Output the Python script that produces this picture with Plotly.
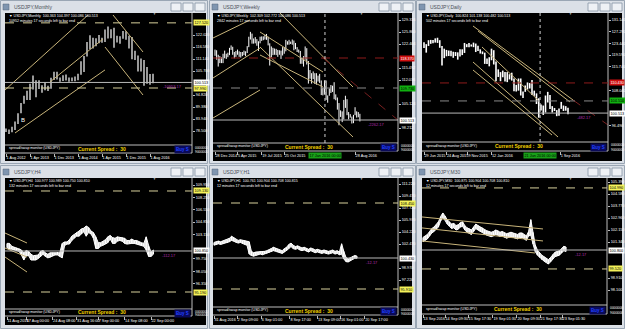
import plotly.graph_objects as go

W_PX, H_PX = 625, 329

# ---------------- data ----------------
# Monthly (Aug 2012 .. Sep 2016)
M_HIGH = [79.6, 79.2, 80.4, 82.8, 86.6, 91.2, 94.5, 96.7, 99.9, 103.7, 101.5, 101.5, 99.2, 100.6, 99.0, 102.6, 105.4,
          105.4, 102.7, 103.8, 104.1, 102.8, 102.8, 103.2, 104.5, 110.1, 112.5, 118.9, 121.9,
          120.8, 120.5, 122.0, 120.8, 124.5, 125.9, 124.6, 125.3, 121.7, 121.5, 123.8, 123.7,
          121.7, 121.1, 114.9, 112.7, 111.4, 110.7, 107.5, 104.3, 104.4]
M_LOW = [78.0, 77.1, 77.9, 79.0, 81.7, 86.5, 90.9, 92.6, 92.6, 97.3, 93.8, 97.5, 95.8, 97.0, 96.6, 97.6, 101.6,
         101.8, 100.8, 101.2, 101.4, 100.8, 101.1, 101.1, 101.5, 104.0, 105.2, 112.3, 115.6,
         115.9, 116.9, 118.3, 118.5, 118.9, 120.4, 120.5, 116.2, 118.6, 118.1, 120.3, 119.9,
         115.9, 111.0, 110.7, 105.5, 105.5, 99.0, 99.9, 99.5, 100.1]
M_XTICK_IDX = [0, 8, 16, 24, 32, 40, 48]
M_XTICK_TXT = ["1 Aug 2012", "1 Apr 2013", "1 Dec 2013", "1 Aug 2014", "1 Apr 2015", "1 Dec 2015", "1 Aug 2016"]
M_YTICKS = [73.060, 78.500, 83.940, 89.380, 94.820, 100.260, 105.700, 111.140, 116.580, 122.020, 127.460]
M_LEVELS = [127.520, 97.990]
M_LAST = 100.513
M_TRENDS = [(-0.33, 97.09, 27.33, 131.09), (14.67, 100.71, 32.33, 120.21), (3.0, 77.6, 33.0, 106.2),
            (35.67, 131.09, 45.67, 114.31), (33.0, 116.58, 45.67, 94.82)]

# Weekly (28 Dec 2014 .. 18 Sep 2016)
W_HIGH = [120.8, 120.6, 119.3, 118.9, 118.6, 119.6, 120.5, 119.6, 119.9, 121.3, 122.0, 121.6, 120.1, 120.4, 120.8,
          120.3, 120.1, 120.1, 120.5, 120.3, 121.8, 124.5, 125.9, 125.4, 124.0, 124.4, 123.8, 123.2, 124.5,
          124.6, 124.6, 125.1, 125.3, 124.5, 122.6, 121.7, 121.3, 121.1, 121.0, 120.7, 120.6, 120.5, 121.5,
          121.5, 123.6, 123.2, 123.6, 123.1, 123.7, 123.4, 122.7, 121.5, 120.8, 120.4, 118.5, 118.9, 121.7,
          121.2, 117.5, 114.9, 114.0, 114.5, 114.0, 114.0, 113.3, 113.8, 111.9, 109.8, 111.9, 111.9, 107.6,
          109.6, 110.6, 110.4, 111.4, 107.9, 107.0, 105.4, 103.3, 103.0, 106.3, 107.5, 106.5, 102.8, 102.2,
          101.5, 102.0, 104.2, 103.0, 102.8, 102.3]
W_LOW = [119.0, 117.9, 115.9, 116.9, 116.9, 116.9, 118.3, 118.1, 118.6, 119.2, 120.7, 119.3, 118.3, 118.7, 119.3,
         118.7, 118.5, 118.9, 119.2, 118.9, 119.8, 121.5, 123.7, 122.5, 122.5, 122.6, 121.9, 120.4, 122.6,
         123.3, 123.5, 123.7, 123.6, 122.0, 116.2, 118.6, 119.2, 119.3, 119.2, 118.7, 119.3, 118.1, 119.1,
         119.6, 120.3, 122.2, 122.2, 122.4, 122.2, 120.6, 120.9, 120.1, 119.9, 116.7, 116.7, 115.9, 117.9,
         116.5, 111.0, 112.4, 111.0, 112.3, 110.9, 110.7, 111.6, 111.2, 107.7, 107.6, 107.9, 106.3, 105.5,
         107.5, 108.3, 108.6, 106.5, 106.2, 103.5, 99.0, 101.4, 99.9, 100.7, 104.0, 101.9, 100.7, 101.2,
         99.5, 99.6, 101.9, 101.2, 101.3, 100.1]
W_XTICK_IDX = [0, 14, 29, 43, 58, 72, 87]
W_XTICK_TXT = ["28 Dec 2014", "5 Apr 2015", "19 Jul 2015", "25 Oct 2015", "7 Feb 2016", "15 May 2016", "28 Aug 2016"]
W_YTICKS = [94.756, 98.212, 101.668, 105.124, 108.580, 112.036, 115.492, 118.948, 122.404, 125.860, 129.316]
W_RED = 118.37
W_GREEN = 109.73
W_LAST = 100.513
W_CROSS = 68.3
W_TRENDS = [(-1.24, 124.13, 21.74, 129.32), (-1.24, 112.61, 27.95, 121.25), (-1.24, 101.09, 27.95, 109.16),
            (27.95, 125.86, 67.08, 114.34), (27.95, 121.54, 85.71, 95.62), (38.51, 132.2, 85.71, 110.02),
            (27.95, 119.24, 67.08, 110.02)]
W_RED_TREND = (67.08, 118.37, 113.66, 100.5)

# Daily (week-sampled, 29 Jun 2015 .. 22 Sep 2016)
D_HIGH = W_HIGH[26:]
D_LOW = W_LOW[26:]
D_XTICK_IDX = [0, 10, 19.5, 30, 40.5, 50.7, 60.5]
D_XTICK_TXT = ["29 Jun 2015", "24 Aug 2015", "9 Nov 2015", "12 Jan 2016", "6 Apr 2016", "22 Jun 2016", "1 Sep 2016"]
D_YTICKS = [92.640, 96.490, 100.340, 104.190, 108.040, 111.890, 115.740, 119.590, 123.440, 127.290, 131.140]
D_RED = 110.43
D_GREEN = 104.51
D_LAST = 100.513
D_CROSS = 51.6
D_TRENDS = [(21.78, 129.17, 66.22, 104.82), (24.0, 127.52, 64.9, 104.16), (25.78, 122.26, 50.67, 104.82),
            (21.78, 117.32, 59.56, 92.65), (21.78, 114.69, 56.9, 93.3)]
D_RED_TREND = (66.22, 104.82, 81.78, 96.6)

# H4 (half-day samples, 11 Aug .. 22 Sep 2016)
H4_HIGH = [101.9, 101.9, 101.5, 101.4, 101.3, 101.2, 101.0, 100.6, 100.9, 100.8, 100.4, 100.2, 100.2, 100.3, 100.8,
           100.9, 100.6, 100.4, 100.6, 100.6, 100.6, 100.7, 100.6, 101.9, 102.1, 102.1, 102.4, 102.9, 103.1,
           103.4, 103.6, 103.9, 104.0, 104.3, 104.1, 103.6, 103.4, 102.8, 102.0, 102.0, 102.2, 102.4, 102.8,
           103.0, 102.7, 102.6, 102.8, 102.7, 102.7, 102.6, 102.3, 102.3, 102.5, 102.3, 102.3, 102.1, 102.0,
           101.9, 102.8, 101.6, 100.7, 101.0]
H4_LOW = [101.3, 101.1, 101.1, 101.0, 100.9, 100.8, 100.3, 99.6, 100.2, 100.2, 99.6, 99.6, 99.6, 99.8, 100.1,
          100.4, 100.1, 99.9, 100.0, 100.2, 100.3, 100.3, 100.1, 99.9, 101.6, 101.8, 101.8, 102.3, 102.6,
          102.9, 102.9, 103.2, 103.5, 102.9, 103.4, 103.2, 102.6, 101.2, 101.2, 101.5, 101.6, 101.8, 102.0,
          102.5, 101.9, 101.9, 102.2, 102.3, 102.2, 101.9, 101.8, 101.9, 101.9, 101.9, 101.8, 101.7, 101.6,
          101.5, 101.0, 100.1, 100.1, 100.4]
H4_XTICK_IDX = [0, 8, 19, 29, 38, 49, 60]
H4_XTICK_TXT = ["11 Aug 2016", "17 Aug 00:00", "24 Aug 08:00", "31 Aug 16:00", "7 Sep 00:00", "14 Sep 08:00", "22 Sep 00:00"]
H4_YTICKS = [92.950, 94.650, 96.350, 98.050, 99.750, 101.450, 103.150, 104.850, 106.550, 108.250, 109.950]
H4_LEVELS = [109.13, 95.19]
H4_LAST = 100.85
H4_TRENDS = [(-0.83, 103.33, 8.33, 101.95), (-0.83, 101.26, 8.33, 100.02), (-0.83, 100.02, 8.33, 97.95)]

# H1 (31 Aug .. 22 Sep 2016)
H1_HIGH = [102.7, 102.8, 102.9, 102.8, 102.9, 103.0, 103.1, 103.3, 103.6, 103.4, 103.1, 103.0, 103.1, 103.0, 103.0,
           102.9, 102.8, 101.4, 101.2, 101.3, 101.3, 101.4, 101.3, 101.4, 101.5, 101.6, 101.8, 102.0, 101.9,
           101.7, 101.6, 101.5, 101.8, 102.0, 102.4, 102.6, 102.3, 102.1, 102.2, 102.0, 101.9, 102.0, 101.8,
           101.7, 101.9, 101.8, 101.6, 101.7, 101.6, 101.5, 101.6, 101.5, 101.4, 101.5, 101.6, 101.4, 101.5,
           101.3, 102.5, 101.4, 100.5, 100.3, 100.5, 100.7, 100.8, 100.7]
H1_LOW = [102.3, 102.4, 102.5, 102.4, 102.5, 102.6, 102.6, 102.8, 103.0, 102.9, 102.7, 102.6, 102.7, 102.5, 102.4,
          102.3, 101.0, 100.8, 100.7, 100.8, 100.9, 101.0, 100.9, 101.0, 101.1, 101.2, 101.3, 101.5, 101.4,
          101.3, 101.2, 101.1, 101.3, 101.5, 101.8, 102.1, 101.8, 101.7, 101.8, 101.6, 101.5, 101.6, 101.4,
          101.3, 101.5, 101.4, 101.2, 101.3, 101.2, 101.1, 101.2, 101.1, 101.0, 101.1, 101.2, 101.0, 101.1,
          100.9, 101.0, 100.3, 99.9, 99.85, 100.0, 100.2, 100.4, 100.4]
H1_XTICK_IDX = [0, 10.5, 21.5, 34.5, 47, 57.5, 68.5]
H1_XTICK_TXT = ["31 Aug 2016", "2 Sep 09:00", "6 Sep 01:00", "8 Sep 17:00", "13 Sep 09:00", "16 Sep 01:00", "20 Sep 17:00"]
H1_YTICKS = [93.720, 95.470, 97.220, 98.970, 100.720, 102.470, 104.220, 105.970, 107.720, 109.470, 111.220]
H1_LEVELS = [108.45, 95.91]
H1_LAST = 100.43

# M30 (13 Sep .. 22 Sep 2016)
M30_HIGH = [101.65, 101.75, 101.85, 102.05, 102.25, 102.35, 102.5, 102.7, 103.05, 103.3, 103.1, 102.85, 102.7,
            102.55, 102.6, 102.45, 102.5, 102.65, 102.7, 102.45, 102.3, 102.25, 102.15, 102.35, 102.55, 102.45,
            102.35, 102.3, 102.15, 102.1, 102.05, 102.0, 102.05, 102.15, 102.1, 102.0, 102.05, 101.95, 101.9,
            101.95, 102.0, 101.95, 101.9, 101.85, 101.95, 101.95, 101.85, 101.75, 102.05, 102.85, 102.0, 101.15,
            100.8, 100.6, 100.45, 100.35, 100.25, 100.15, 100.3, 100.5, 100.65, 100.7, 100.75, 100.9, 101.05, 101.0]
M30_LOW = [101.35, 101.45, 101.55, 101.75, 101.95, 102.05, 102.2, 102.35, 102.75, 103.0, 102.8, 102.55, 102.4,
           102.25, 102.3, 102.15, 102.2, 102.35, 102.4, 102.15, 102.0, 101.95, 101.85, 102.05, 102.25, 102.15,
           102.05, 102.0, 101.85, 101.8, 101.75, 101.7, 101.75, 101.85, 101.8, 101.7, 101.75, 101.65, 101.6,
           101.65, 101.7, 101.65, 101.6, 101.55, 101.65, 101.65, 101.55, 101.45, 101.75, 101.8, 101.2, 100.7,
           100.45, 100.3, 100.15, 100.05, 99.95, 99.85, 100.0, 100.2, 100.35, 100.4, 100.45, 100.6, 100.75, 100.7]
M30_XTICK_IDX = [0, 10, 20.5, 31.8, 42.7, 53.2, 63.2]
M30_XTICK_TXT = ["13 Sep 2016", "14 Sep 09:30", "15 Sep 17:30", "19 Sep 01:30", "20 Sep 09:30", "21 Sep 17:30", "23 Sep 01:30"]
M30_YTICKS = [97.290, 98.100, 98.910, 99.720, 100.530, 101.340, 102.150, 102.960, 103.770, 104.580, 105.390]
M30_LEVELS = [104.99, 99.52]
M30_LAST = 100.80
M30_TRENDS = [(-0.45, 103.03, 54.55, 102.22), (-0.45, 102.29, 54.55, 101.41), (-0.45, 101.41, 50.9, 100.6)]

TITLES = ["USDJPY,Monthly", "USDJPY,Weekly", "USDJPY,Daily", "USDJPY,H4", "USDJPY,H1", "USDJPY,M30"]
INFO1 = ["\u25bc USDJPY,Monthly  100.363 104.397 100.086 100.513",
         "\u25bc USDJPY,Weekly  102.309 102.772 100.086 100.513",
         "\u25bc USDJPY,Daily  100.824 101.138 100.482 100.513",
         "\u25bc USDJPY,H4  100.977 100.989 100.750 100.810",
         "\u25bc USDJPY,H1  100.761 100.904 100.708 100.815",
         "\u25bc USDJPY,M30  100.875 100.904 100.708 100.810"]
INFO2 = ["10952 minutes 17 seconds left to bar end", "2842 minutes 17 seconds left to bar end",
         "502 minutes 17 seconds left to bar end", "132 minutes 17 seconds left to bar end",
         "12 minutes 17 seconds left to bar end", "12 minutes 17 seconds left to bar end"]
SPREAD_TXT = "Current Spread :  30"
PROFIT_TXT = ["-10953.17", "-2262.17", "-482.17", "-112.17", "-12.17", "-12.17"]
CROSS_TXT = ["", "17 Jan 2016 00:00", "21 Jun 2016 00:00", "", "", ""]

# ---------------- geometry / style ----------------
GEO = [
    dict(win=(0, 0, 208, 164), blk=(5, 13, 206, 161), mr=192, mb=145, db=153, p0=6, s=3.0, yref=23, pref=127.46, ppp=0.4533, lw=1.2, band=False),
    dict(win=(209, 0, 416, 164), blk=(213, 13, 412, 161), mr=398, mb=143, db=151, p0=215, s=1.61, yref=32, pref=125.86, ppp=0.288, lw=1.0, band=False),
    dict(win=(416, 0, 625, 164), blk=(422, 13, 622, 161), mr=608, mb=142, db=151, p0=424, s=2.25, yref=20, pref=131.14, ppp=0.329, lw=1.6, band=False),
    dict(win=(0, 165, 208, 329), blk=(5, 178, 206, 325), mr=192, mb=309, db=316, p0=7, s=2.4, yref=222, pref=104.85, ppp=0.138, lw=1.0, band=True),
    dict(win=(209, 165, 416, 329), blk=(213, 178, 412, 325), mr=398, mb=307, db=315, p0=214, s=2.2, yref=184, pref=111.22, ppp=0.1458, lw=1.0, band=True),
    dict(win=(416, 165, 625, 329), blk=(422, 178, 622, 325), mr=607, mb=305, db=314, p0=423, s=2.2, yref=250, pref=100.8, ppp=0.0675, lw=1.0, band=True),
]

HIGHS = [M_HIGH, W_HIGH, D_HIGH, H4_HIGH, H1_HIGH, M30_HIGH]
LOWS = [M_LOW, W_LOW, D_LOW, H4_LOW, H1_LOW, M30_LOW]
XT_IDX = [M_XTICK_IDX, W_XTICK_IDX, D_XTICK_IDX, H4_XTICK_IDX, H1_XTICK_IDX, M30_XTICK_IDX]
XT_TXT = [M_XTICK_TXT, W_XTICK_TXT, D_XTICK_TXT, H4_XTICK_TXT, H1_XTICK_TXT, M30_XTICK_TXT]
YT = [M_YTICKS, W_YTICKS, D_YTICKS, H4_YTICKS, H1_YTICKS, M30_YTICKS]
LAST = [M_LAST, W_LAST, D_LAST, H4_LAST, H1_LAST, M30_LAST]
TRENDS = [M_TRENDS, W_TRENDS, D_TRENDS, H4_TRENDS, [], M30_TRENDS]
YEL_LEVELS = [M_LEVELS, [], [], H4_LEVELS, H1_LEVELS, M30_LEVELS]
EXTRA_LEVELS = [[], [W_RED, W_GREEN], [D_RED, D_GREEN], [], [], []]
CROSS = [None, W_CROSS, D_CROSS, None, None, None]

FONT = "Liberation Sans"
TREND_C = "#c8b47a"
LEVEL_C = "#d8d09c"
FRAME_C = "#bdbdbd"
CHROME = "#dbe0e7"


def fx(x):
    return x / W_PX


def fy(y):
    return 1 - y / H_PX


fig = go.Figure()
shapes = []
ann = []
layout = {}

for k, g in enumerate(GEO):
    n = k + 1
    xn = "x" if n == 1 else f"x{n}"
    yn = "y" if n == 1 else f"y{n}"
    xk = "xaxis" if n == 1 else f"xaxis{n}"
    yk = "yaxis" if n == 1 else f"yaxis{n}"
    wx0, wy0, wx1, wy1 = g["win"]
    bl, bt, br, bb = g["blk"]
    mr, mb, db = g["mr"], g["mb"], g["db"]

    # window chrome
    shapes.append(dict(type="rect", xref="paper", yref="paper", x0=fx(wx0 + 0.5), x1=fx(wx1 - 0.5),
                       y0=fy(wy1 - 0.5), y1=fy(wy0 + 0.5), fillcolor=CHROME,
                       line=dict(color="#9aa6b4", width=1), layer="below"))
    shapes.append(dict(type="rect", xref="paper", yref="paper", x0=fx(bl), x1=fx(br), y0=fy(bb), y1=fy(bt),
                       fillcolor="black", line=dict(width=0), layer="below"))
    shapes.append(dict(type="rect", xref="paper", yref="paper", x0=fx(wx0 + 3), x1=fx(wx0 + 9),
                       y0=fy(wy0 + 10), y1=fy(wy0 + 4), fillcolor="#7f95b0",
                       line=dict(color="#56657a", width=0.5), layer="below"))
    for j in range(3):
        bx1 = wx1 - 3 - j * 12
        shapes.append(dict(type="rect", xref="paper", yref="paper", x0=fx(bx1 - 10), x1=fx(bx1),
                           y0=fy(wy0 + 11), y1=fy(wy0 + 3), fillcolor="#eef1f5",
                           line=dict(color="#8794a4", width=0.8), layer="below"))
    ann.append(dict(xref="paper", yref="paper", x=fx(wx0 + 12), y=fy(wy0 + 7), text=TITLES[k],
                    showarrow=False, xanchor="left", yanchor="middle",
                    font=dict(family=FONT, size=5, color="#4a4f57")))
    # frame lines
    shapes.append(dict(type="line", xref="paper", yref="paper", x0=fx(mr), x1=fx(mr), y0=fy(db), y1=fy(bt),
                       line=dict(color=FRAME_C, width=1)))
    shapes.append(dict(type="line", xref="paper", yref="paper", x0=fx(bl), x1=fx(mr), y0=fy(mb), y1=fy(mb),
                       line=dict(color=FRAME_C, width=1)))
    shapes.append(dict(type="line", xref="paper", yref="paper", x0=fx(bl), x1=fx(mr), y0=fy(db), y1=fy(db),
                       line=dict(color=FRAME_C, width=1)))

    # axes
    x_lo = (bl - g["p0"]) / g["s"]
    x_hi = (mr - g["p0"]) / g["s"]
    y_hi = g["pref"] + (g["yref"] - bt) * g["ppp"]
    y_lo = g["pref"] - (mb - g["yref"]) * g["ppp"]
    # price labels hidden under highlighted boxes (as in the terminal)
    marks = YEL_LEVELS[k] + EXTRA_LEVELS[k] + [LAST[k]]
    ytv = [v for v in YT[k]
           if all(abs(v - m) / g["ppp"] > 5 for m in marks) and (v - y_lo) / g["ppp"] > 5]
    # date labels hidden under the crosshair date box
    xtv, xtt = [], []
    for v, t in zip(XT_IDX[k], XT_TXT[k]):
        if CROSS[k] is not None:
            tpx = g["p0"] + v * g["s"]
            cpx = g["p0"] + CROSS[k] * g["s"]
            if tpx + 20 > cpx - 17 and tpx < cpx + 17:
                continue
        xtv.append(v)
        xtt.append(t)
    layout[xk] = dict(domain=[fx(bl), fx(mr)], range=[x_lo, x_hi], anchor="free", position=fy(db),
                      showgrid=False, zeroline=False, showline=False,
                      tickmode="array", tickvals=xtv, ticktext=xtt, tickangle=0,
                      ticks="outside", ticklen=3, tickcolor=FRAME_C, tickwidth=1,
                      ticklabelposition="outside right",
                      tickfont=dict(family=FONT, size=3.8, color="white"), fixedrange=True)
    layout[yk] = dict(domain=[fy(mb), fy(bt)], range=[y_lo, y_hi], anchor=xn, side="right",
                      showgrid=False, zeroline=False, showline=False,
                      tickmode="array", tickvals=ytv, ticktext=[f"{v:.3f}" for v in ytv],
                      ticks="outside", ticklen=2, tickcolor=FRAME_C,
                      tickfont=dict(family=FONT, size=3.8, color="white"), fixedrange=True)

    # bars from high/low lists
    idx = list(range(len(HIGHS[k])))
    if g["band"]:
        fig.add_trace(go.Scatter(x=idx, y=LOWS[k], mode="lines", xaxis=xn, yaxis=yn, hoverinfo="skip",
                                 line=dict(color="white", width=g["lw"])))
        fig.add_trace(go.Scatter(x=idx, y=HIGHS[k], mode="lines", xaxis=xn, yaxis=yn, hoverinfo="skip",
                                 fill="tonexty", fillcolor="rgba(255,255,255,0.85)",
                                 line=dict(color="white", width=g["lw"])))
    xs, ys = [], []
    for i, (h, l) in enumerate(zip(HIGHS[k], LOWS[k])):
        xs += [i, i, None]
        ys += [l, h, None]
    fig.add_trace(go.Scatter(x=xs, y=ys, mode="lines", xaxis=xn, yaxis=yn, hoverinfo="skip",
                             line=dict(color="white", width=g["lw"] if not g["band"] else 1.2)))

    # trend lines
    for (a0, b0, a1, b1) in TRENDS[k]:
        fig.add_trace(go.Scatter(x=[a0, a1], y=[b0, b1], mode="lines", xaxis=xn, yaxis=yn, hoverinfo="skip",
                                 line=dict(color=TREND_C, width=1)))

    # yellow levels
    for lv in YEL_LEVELS[k]:
        shapes.append(dict(type="line", xref=f"{xn} domain", x0=0, x1=1, yref=yn, y0=lv, y1=lv,
                           line=dict(color=LEVEL_C, width=1, dash="dash")))
        ann.append(dict(xref="paper", yref=yn, x=fx(mr + 1), y=lv, text=f"{lv:.3f}", showarrow=False,
                        xanchor="left", yanchor="middle", bgcolor="#f4f25a", borderpad=0.5,
                        font=dict(family=FONT, size=3.8, color="black")))
    # last price line
    shapes.append(dict(type="line", xref=f"{xn} domain", x0=0, x1=1, yref=yn, y0=LAST[k], y1=LAST[k],
                       line=dict(color="#b8b8b8", width=1)))
    ann.append(dict(xref="paper", yref=yn, x=fx(mr + 1), y=LAST[k], text=f"{LAST[k]:.3f}", showarrow=False,
                    xanchor="left", yanchor="middle", bgcolor="white", borderpad=0.5,
                    font=dict(family=FONT, size=3.8, color="black")))
    # profit label
    ann.append(dict(xref=xn, yref=yn, x=len(HIGHS[k]) + 4.5 / g["s"], y=LAST[k], text=PROFIT_TXT[k],
                    showarrow=False, xanchor="left", yanchor="top",
                    font=dict(family=FONT, size=4, color="#b02cb0")))

    # info text
    ann.append(dict(xref="paper", yref="paper", x=fx(bl + 2), y=fy(bt + 3), text=INFO1[k], showarrow=False,
                    xanchor="left", yanchor="middle", font=dict(family=FONT, size=3.6, color="white")))
    ann.append(dict(xref="paper", yref="paper", x=fx(bl + 2), y=fy(bt + 8), text=INFO2[k], showarrow=False,
                    xanchor="left", yanchor="middle", font=dict(family=FONT, size=3.6, color="white")))
    ann.append(dict(xref="paper", yref="paper", x=fx(bl + (mr - bl) * 0.8), y=fy(bt + 1), text="\u25bc",
                    showarrow=False, xanchor="center", yanchor="middle",
                    font=dict(family=FONT, size=3, color="#c0c0c0")))
    # indicator sub-window
    ann.append(dict(xref="paper", yref="paper", x=fx(bl + 2), y=fy((mb + db) / 2 - 1), text="spread/swap monitor (USDJPY)",
                    showarrow=False, xanchor="left", yanchor="middle",
                    font=dict(family=FONT, size=3.6, color="white")))
    ann.append(dict(xref="paper", yref="paper", x=fx(bl + (mr - bl) * 0.52), y=fy((mb + db) / 2 - 0.5), text=f"<b>{SPREAD_TXT}</b>",
                    showarrow=False, xanchor="center", yanchor="middle",
                    font=dict(family=FONT, size=5, color="#f0d000")))
    ann.append(dict(xref="paper", yref="paper", x=fx(mr - 1), y=fy((mb + db) / 2 + 0.5), text="<b>Buy S</b>",
                    showarrow=False, xanchor="right", yanchor="middle", bgcolor="#0a0a5a",
                    font=dict(family=FONT, size=4.5, color="#2040ff")))
    ann.append(dict(xref="paper", yref="paper", x=fx(mr + 1), y=fy(mb + 2.5), text="0000000",
                    showarrow=False, xanchor="left", yanchor="middle",
                    font=dict(family=FONT, size=3.4, color="white")))
    ann.append(dict(xref="paper", yref="paper", x=fx(mr + 1), y=fy(db - 1.5), text="9000000",
                    showarrow=False, xanchor="left", yanchor="middle",
                    font=dict(family=FONT, size=3.4, color="white")))

    # crosshair, red/green levels
    if CROSS[k] is not None:
        red, green = EXTRA_LEVELS[k]
        rt = W_RED_TREND if k == 1 else D_RED_TREND
        shapes.append(dict(type="line", xref=f"{xn} domain", x0=0, x1=1, yref=yn, y0=red, y1=red,
                           line=dict(color="#8e1b1b", width=1, dash="dash")))
        shapes.append(dict(type="line", xref=f"{xn} domain", x0=0, x1=1, yref=yn, y0=green, y1=green,
                           line=dict(color="#8a8a8a", width=1, dash="dash")))
        shapes.append(dict(type="line", xref=xn, x0=CROSS[k], x1=CROSS[k], yref=f"{yn} domain", y0=0, y1=1,
                           line=dict(color="#d0d0d0", width=1, dash="dot")))
        fig.add_trace(go.Scatter(x=[rt[0], rt[2]], y=[rt[1], rt[3]], mode="lines", xaxis=xn, yaxis=yn,
                                 hoverinfo="skip", line=dict(color="#7a2020", width=1, dash="dash")))
        ann.append(dict(xref="paper", yref=yn, x=fx(mr + 1), y=red, text=f"{red:.3f}", showarrow=False,
                        xanchor="left", yanchor="middle", bgcolor="#d01010", borderpad=0.5,
                        font=dict(family=FONT, size=3.8, color="white")))
        ann.append(dict(xref="paper", yref=yn, x=fx(mr + 1), y=green, text=f"{green:.3f}", showarrow=False,
                        xanchor="left", yanchor="middle", bgcolor="#10b010", borderpad=0.5,
                        font=dict(family=FONT, size=3.8, color="black")))
        ann.append(dict(xref=xn, yref="paper", x=CROSS[k], y=fy(db + 4.5), text=CROSS_TXT[k], showarrow=False,
                        xanchor="center", yanchor="middle", bgcolor="#18a018", borderpad=0.5,
                        font=dict(family=FONT, size=3.8, color="black")))

# panel-specific extra mark
ann.append(dict(xref="x", yref="y", x=5.7, y=83.5, text="B", showarrow=False,
                font=dict(family=FONT, size=6, color="white")))

fig.update_layout(
    width=W_PX, height=H_PX, margin=dict(l=0, r=0, t=0, b=0),
    paper_bgcolor=CHROME, plot_bgcolor="black", showlegend=False,
    shapes=shapes, annotations=ann, **layout,
)

fig.write_html("out.html")
